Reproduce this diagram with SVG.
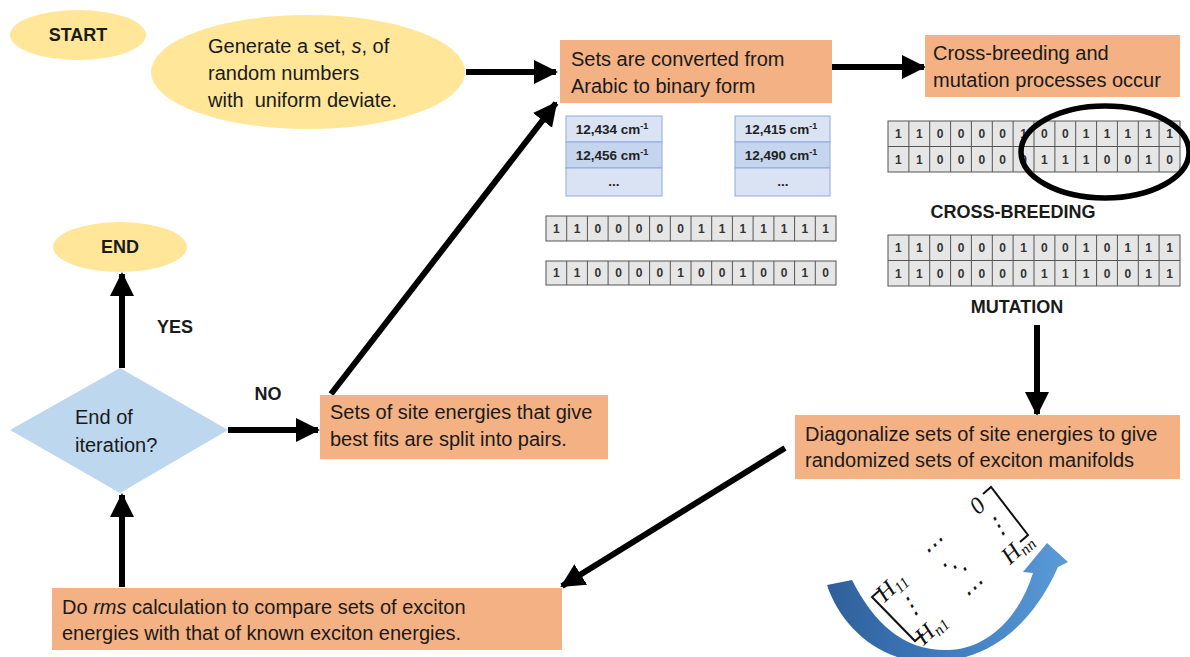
<svg xmlns="http://www.w3.org/2000/svg" width="1190" height="657" viewBox="0 0 1190 657">
<style>
.t{font-family:"Liberation Sans",Arial,sans-serif;font-size:20px;fill:#1a1a1a}
.b{font-family:"Liberation Sans",Arial,sans-serif;font-size:18px;font-weight:bold;fill:#1a1a1a}
.cell{font-family:"Liberation Sans",Arial,sans-serif;font-size:12px;font-weight:bold;fill:#333;text-anchor:middle}
.tab{font-family:"Liberation Sans",Arial,sans-serif;font-size:13.5px;font-weight:bold;fill:#222;text-anchor:middle}
.box{fill:#f4b183}
.yel{fill:#ffe699}
.row{fill:#e6e6e6;stroke:#555;stroke-width:1}
.grid{stroke:#555;stroke-width:1;fill:none}
.conn{stroke:#000;stroke-width:6;fill:none;marker-end:url(#ah)}
.m{font-family:"Liberation Serif","Times New Roman",serif;font-style:italic;font-size:24px;fill:#111;text-anchor:middle}
.br{fill:none;stroke:#111;stroke-width:2}
</style>
<defs>
<marker id="ah" markerUnits="userSpaceOnUse" markerWidth="26" markerHeight="26" refX="22" refY="12" orient="auto"><path d="M0,0 L24,12 L0,24 Z" fill="#000"/></marker>
<linearGradient id="bg" x1="0" y1="0" x2="1" y2="0"><stop offset="0" stop-color="#2f5f99"/><stop offset="0.5" stop-color="#3f7cc0"/><stop offset="1" stop-color="#5b9bd5"/></linearGradient>
</defs>
<rect width="1190" height="657" fill="#fff"/>

<g id="connectors">
<line class="conn" x1="466" y1="72" x2="556" y2="72"/>
<line class="conn" x1="832" y1="67" x2="924" y2="67"/>
<line class="conn" x1="1037" y1="325" x2="1037" y2="414"/>
<line class="conn" x1="785" y1="448" x2="562" y2="586"/>
<line class="conn" x1="122" y1="587" x2="122" y2="495"/>
<line class="conn" x1="122" y1="368" x2="122" y2="274"/>
<line class="conn" x1="228" y1="430" x2="318" y2="430"/>
<line class="conn" x1="331" y1="394" x2="556" y2="103"/>
</g>

<g id="start"><ellipse class="yel" cx="78" cy="35" rx="68" ry="25"/><text class="b" x="78" y="41" text-anchor="middle">START</text></g>

<g id="generate"><ellipse class="yel" cx="308" cy="72" rx="157" ry="57"/>
<text class="t" x="208" y="53">Generate a set, <tspan font-style="italic">s</tspan>, of</text>
<text class="t" x="208" y="80">random numbers</text>
<text class="t" x="208" y="107" xml:space="preserve">with  uniform deviate.</text></g>

<g id="convert"><rect class="box" x="560" y="40" width="272" height="63"/>
<text class="t" x="571" y="66">Sets are converted from</text>
<text class="t" x="571" y="93">Arabic to binary form</text></g>

<g id="crossbreed"><rect class="box" x="925" y="35" width="255" height="62"/>
<text class="t" x="933" y="60">Cross-breeding and</text>
<text class="t" x="933" y="87">mutation processes occur</text></g>

<g id="tables">
<rect x="566" y="116" width="96" height="26" fill="#dae3f3" stroke="#8faadc"/>
<rect x="566" y="142" width="96" height="26" fill="#c5d5ee" stroke="#8faadc"/>
<rect x="566" y="168" width="96" height="28" fill="#dae3f3" stroke="#8faadc"/>
<text class="tab" x="612" y="134">12,434 cm<tspan font-size="9" dy="-5">-1</tspan></text>
<text class="tab" x="612" y="160">12,456 cm<tspan font-size="9" dy="-5">-1</tspan></text>
<text class="tab" x="614" y="186" font-size="10">...</text>
<rect x="735" y="116" width="95" height="26" fill="#dae3f3" stroke="#8faadc"/>
<rect x="735" y="142" width="95" height="26" fill="#c5d5ee" stroke="#8faadc"/>
<rect x="735" y="168" width="95" height="28" fill="#dae3f3" stroke="#8faadc"/>
<text class="tab" x="781" y="134">12,415 cm<tspan font-size="9" dy="-5">-1</tspan></text>
<text class="tab" x="781" y="160">12,490 cm<tspan font-size="9" dy="-5">-1</tspan></text>
<text class="tab" x="783" y="186" font-size="10">...</text>
</g>

<g id="binary-left">
<rect class="row" x="546" y="216" width="290" height="25"/>
<path class="grid" d="M566.7,216V241M587.4,216V241M608.1,216V241M628.9,216V241M649.6,216V241M670.3,216V241M691,216V241M711.7,216V241M732.4,216V241M753.1,216V241M773.9,216V241M794.6,216V241M815.3,216V241"/>
<text class="cell" x="556.4 577.1 597.8 618.5 639.2 659.9 680.6 701.4 722.1 742.8 763.5 784.2 804.9 825.6" y="233">11000001111111</text>
<rect class="row" x="546" y="261" width="290" height="24"/>
<path class="grid" d="M566.7,261V285M587.4,261V285M608.1,261V285M628.9,261V285M649.6,261V285M670.3,261V285M691,261V285M711.7,261V285M732.4,261V285M753.1,261V285M773.9,261V285M794.6,261V285M815.3,261V285"/>
<text class="cell" x="556.4 577.1 597.8 618.5 639.2 659.9 680.6 701.4 722.1 742.8 763.5 784.2 804.9 825.6" y="277">11000010010010</text>
</g>

<g id="binary-right">
<rect class="row" x="888" y="121" width="292" height="51"/>
<path class="grid" d="M888,146.5H1180M908.9,121V172M929.7,121V172M950.6,121V172M971.4,121V172M992.3,121V172M1013.1,121V172M1034,121V172M1054.9,121V172M1075.7,121V172M1096.6,121V172M1117.4,121V172M1138.3,121V172M1159.1,121V172"/>
<text class="cell" x="898.4 919.3 940.1 961 981.9 1002.7 1023.6 1044.4 1065.3 1086.1 1107 1127.9 1148.7 1169.6" y="138">11000010011111</text>
<text class="cell" x="898.4 919.3 940.1 961 981.9 1002.7 1023.6 1044.4 1065.3 1086.1 1107 1127.9 1148.7 1169.6" y="164">11000001110010</text>
<rect class="row" x="888" y="235" width="292" height="51"/>
<path class="grid" d="M888,260.5H1180M908.9,235V286M929.7,235V286M950.6,235V286M971.4,235V286M992.3,235V286M1013.1,235V286M1034,235V286M1054.9,235V286M1075.7,235V286M1096.6,235V286M1117.4,235V286M1138.3,235V286M1159.1,235V286"/>
<text class="cell" x="898.4 919.3 940.1 961 981.9 1002.7 1023.6 1044.4 1065.3 1086.1 1107 1127.9 1148.7 1169.6" y="252">11000010010111</text>
<text class="cell" x="898.4 919.3 940.1 961 981.9 1002.7 1023.6 1044.4 1065.3 1086.1 1107 1127.9 1148.7 1169.6" y="278">11000001110011</text>
<ellipse cx="1105" cy="152" rx="84" ry="46" fill="none" stroke="#000" stroke-width="5.5"/>
<text class="b" x="1013" y="218" text-anchor="middle">CROSS-BREEDING</text>
<text class="b" x="1017" y="313" text-anchor="middle">MUTATION</text>
</g>

<g id="diagonalize"><rect class="box" x="795" y="415" width="385" height="64"/>
<text class="t" x="805" y="441">Diagonalize sets of site energies to give</text>
<text class="t" x="805" y="467">randomized sets of exciton manifolds</text></g>

<g id="split"><rect class="box" x="320" y="395" width="288" height="64"/>
<text class="t" x="330" y="419">Sets of site energies that give</text>
<text class="t" x="330" y="446">best fits are split into pairs.</text></g>

<g id="decision"><path d="M10,430 L120,368 L228,430 L120,493 Z" fill="#bdd7ee"/>
<text class="t" x="75" y="424">End of</text>
<text class="t" x="75" y="452">iteration?</text></g>

<g id="end"><ellipse class="yel" cx="120" cy="247" rx="67" ry="25"/><text class="b" x="120" y="253" text-anchor="middle">END</text></g>

<text class="b" x="175" y="333" text-anchor="middle">YES</text>
<text class="b" x="268" y="400" text-anchor="middle">NO</text>

<g id="rms"><rect class="box" x="52" y="588" width="510" height="62"/>
<text class="t" x="62" y="614">Do <tspan font-style="italic">rms</tspan> calculation to compare sets of exciton</text>
<text class="t" x="62" y="640">energies with that of known exciton energies.</text></g>

<g id="matrix">
<path d="M827,585 C840,625 880,665 935,662 C985,660 1030,630 1058,567 L1068,562 L1047,543 L1023,572 L1033,573 C1020,615 990,648 950,650 C905,652 875,625 852,580 Z" fill="url(#bg)"/>
<path class="br" d="M880,590 L872,597 L915,641 L923,634"/>
<path class="br" d="M983,494 L991,487 L1028,535 L1020,542"/>
<g transform="translate(891,586) rotate(-43)">
<text class="m" x="0" y="8">H<tspan font-size="16" dy="4">11</tspan></text>
<text class="m" x="58" y="8">⋯</text>
<text class="m" x="118" y="8">0</text>
<text class="m" x="0" y="37">⋮</text>
<text class="m" x="58" y="37">⋱</text>
<text class="m" x="118" y="37">⋮</text>
<text class="m" x="0" y="66">H<tspan font-size="16" dy="4">n1</tspan></text>
<text class="m" x="58" y="66">⋯</text>
<text class="m" x="118" y="66">H<tspan font-size="16" dy="4">nn</tspan></text>
</g>
</g>
</svg>
